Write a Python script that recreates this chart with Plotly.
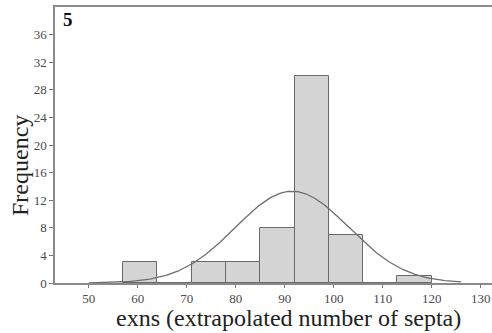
import numpy as np
import plotly.graph_objects as go

# histogram bins (width 7) and counts
bin_starts = [57, 64, 71, 78, 85, 92, 99, 106, 113]
counts     = [3, 0, 3, 3, 8, 30, 7, 0, 1]
bin_width  = 7

# fitted normal curve parameters
fit_mean = 91.5
fit_sd   = 11.55
curve_from, curve_to = 50, 126

y_ticks = [0, 4, 8, 12, 16, 20, 24, 28, 32, 36]
x_ticks = [50, 60, 70, 80, 90, 100, 110, 120, 130]

n_total = sum(counts)
centers = [s + bin_width / 2 for s in bin_starts]
xc = np.linspace(curve_from, curve_to, 300)
yc = n_total * bin_width / (fit_sd * np.sqrt(2 * np.pi)) * np.exp(-0.5 * ((xc - fit_mean) / fit_sd) ** 2)

_serif = "Liberation Serif, Times New Roman, serif"

fig = go.Figure()
fig.add_trace(go.Bar(
    x=centers, y=counts, width=bin_width,
    marker=dict(color="#d4d4d4", line=dict(color="#6a6a6a", width=1)),
    showlegend=False,
))
fig.add_trace(go.Scatter(
    x=xc, y=yc, mode="lines",
    line=dict(color="#6e6e6e", width=1.3),
    showlegend=False,
))

fig.update_xaxes(
    range=[43.1, 132.3], tickvals=x_ticks, ticks="outside", ticklen=3,
    tickcolor="#777", showline=True, linecolor="#8a8a8a", linewidth=1.5,
    mirror=True, showgrid=False, zeroline=False, automargin=False,
    tickfont=dict(family=_serif, size=13, color="#4a4a4a"),
)
fig.update_yaxes(
    range=[0, 40], tickvals=y_ticks, ticks="outside", ticklen=4,
    tickcolor="#777", showline=True, linecolor="#8a8a8a", linewidth=1.5,
    showgrid=False, zeroline=False, automargin=False,
    tickfont=dict(family=_serif, size=13, color="#4a4a4a"),
)

fig.add_annotation(text="<b>5</b>", x=0.014, y=1.0, xref="paper", yref="paper",
                   xanchor="left", yanchor="top", showarrow=False,
                   font=dict(family=_serif, size=19, color="#111"))
fig.add_annotation(text="Frequency", x=-0.08, y=0.424, xref="paper", yref="paper",
                   xanchor="center", yanchor="middle", textangle=-90, showarrow=False,
                   font=dict(family=_serif, size=24, color="#222"))
fig.add_annotation(text="exns (extrapolated number of septa)", x=0.535, y=-0.127,
                   xref="paper", yref="paper", xanchor="center", yanchor="middle",
                   showarrow=False, font=dict(family=_serif, size=24, color="#222"))

fig.update_layout(
    width=492, height=333,
    margin=dict(l=55, r=0, t=7, b=50),
    plot_bgcolor="white", paper_bgcolor="white",
    bargap=0,
)

# page body has a default 8px margin; drop it so the figure fills the window
fig.write_html("out.html", config={"displayModeBar": False},
               post_script="document.body.style.margin='0';")
